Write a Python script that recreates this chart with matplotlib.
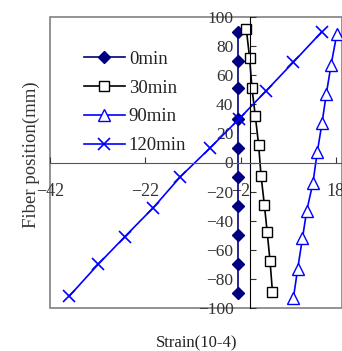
import matplotlib
matplotlib.use('Agg')
import matplotlib.pyplot as plt
from matplotlib.patches import Rectangle

plt.rcParams['font.family'] = ['Liberation Serif', 'DejaVu Serif']

# fibre positions (mm) and strain (10^-4)
pos_0 = [90, 70, 51, 30, 10, -10, -30, -50, -70, -90]
strain_0 = [-2.5, -2.5, -2.5, -2.5, -2.5, -2.5, -2.5, -2.5, -2.5, -2.5]

pos_30 = [92, 72, 51, 32, 12, -9, -29, -48, -68, -89]
strain_30 = [-0.8, -0.1, 0.4, 1.1, 1.8, 2.3, 3.0, 3.6, 4.2, 4.7]

pos_90 = [88, 67, 47, 27, 7, -14, -33, -52, -73, -93]
strain_90 = [18.2, 17.0, 16.0, 15.1, 14.1, 13.2, 11.9, 11.0, 10.0, 9.1]

pos_120 = [90, 69, 49, 30, 10, -10, -31, -51, -70, -92]
strain_120 = [15.1, 9.1, 3.3, -2.3, -8.4, -14.7, -20.3, -26.3, -31.9, -38.0]

xticks = [-42, -22, -2, 18]
yticks = [-100, -80, -60, -40, -20, 0, 20, 40, 60, 80, 100]

fig = plt.figure(figsize=(3.42, 3.51), dpi=100)
ax = fig.add_axes([50 / 342, 43 / 351, 292 / 342, 291 / 351])

ax.plot(strain_0, pos_0, color='#000080', marker='D', markersize=6, lw=1.2, label='0min')
ax.plot(strain_30, pos_30, color='black', marker='s', markersize=7, mfc='white', lw=1.2, label='30min')
ax.plot(strain_90, pos_90, color='#0000FF', marker='^', markersize=9, mfc='white', lw=1.2, label='90min')
ax.plot(strain_120, pos_120, color='#0000FF', marker='x', markersize=9, mew=1.2, lw=1.2, label='120min')

ax.set_xlim(-42, 19.3)
ax.set_ylim(-100, 100)

ax.spines['left'].set_position(('data', 0))
ax.spines['bottom'].set_position(('data', 0))
ax.spines['left'].set_color('black')
ax.spines['bottom'].set_color('#555555')
ax.spines['right'].set_visible(False)
ax.spines['top'].set_visible(False)

# gray plot-area frame
ax.add_patch(Rectangle((0, 0), 1, 1, transform=ax.transAxes, fill=False,
                       edgecolor='#808080', lw=1.2, clip_on=False))

ax.set_xticks(xticks)
ax.set_yticks(yticks)
ax.tick_params(axis='x', direction='in', length=4, pad=15, labelsize=13, colors='#333333')
ax.tick_params(axis='y', direction='in', length=4, pad=12, labelsize=12.5, colors='#333333')

fig.text(31 / 342, 1 - 155 / 351, 'Fiber position(mm)', rotation=90, ha='center', va='center',
         fontsize=13.5, color='#333333')
fig.text(197 / 342, 1 - 343 / 351, 'Strain(10-4)', ha='center', va='center',
         fontsize=12, color='#222222')

leg = ax.legend(loc='upper left', bbox_to_anchor=(0.09, 0.91), frameon=False, fontsize=13.5,
                handlelength=2.2, labelspacing=0.62, handletextpad=0.2, borderaxespad=0)
for t in leg.get_texts():
    t.set_color('#222222')

fig.savefig('out.png', dpi=100)
